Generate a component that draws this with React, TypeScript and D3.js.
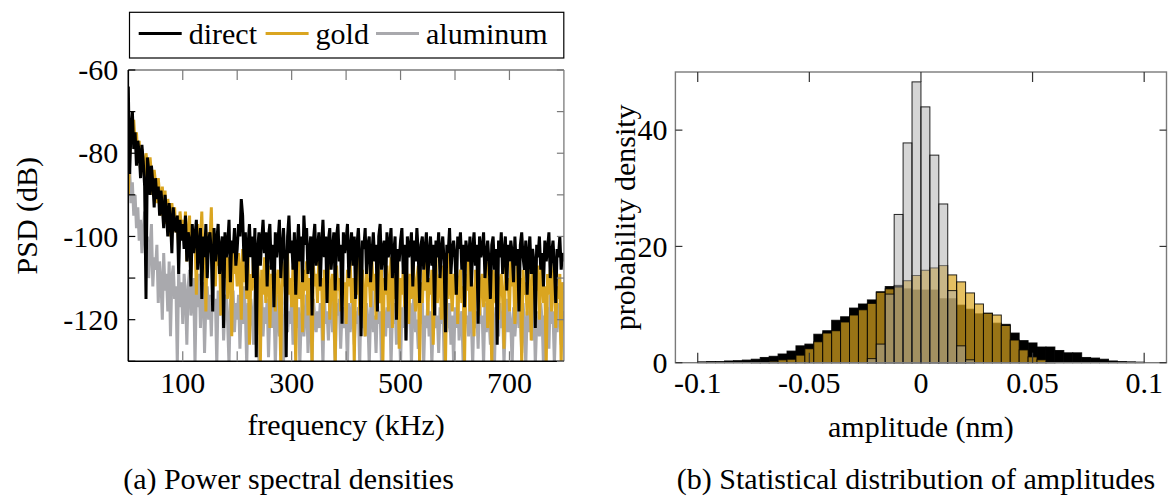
import React from "react";
import * as d3 from "d3";

// ---------- (a) Power spectral densities ----------
const FREQ_STEP = 2.5; // kHz
const PSD_DIRECT = [
  -64, -85, -74, -70, -79, -75, -83, -77, -80, -86, -78, -82, -88, -115, -81, -84, -90, -83, -87, -93,
  -86, -91, -88, -95, -89, -93, -98, -90, -94, -100, -92, -96, -104, -93, -97, -99, -95, -109, -96, -101,
  -97, -103, -95, -106, -99, -101, -112, -97, -104, -100, -96, -108, -102, -98, -115, -100, -105, -97, -110, -101,
  -99, -104, -118, -98, -106, -101, -97, -109, -103, -100, -122, -99, -105, -102, -96, -111, -101, -104, -98, -107,
  -103, -97, -100, -91, -95, -106, -99, -113, -102, -97, -105, -100, -110, -98, -129, -103, -99, -107, -101, -96,
  -104, -99, -112, -100, -97, -108, -102, -117, -99, -105, -101, -96, -110, -103, -98, -106, -129, -100, -95, -104,
  -101, -108, -99, -114, -103, -97, -106, -100, -111, -95, -102, -98, -109, -104, -100, -119, -101, -97, -107, -103,
  -99, -112, -102, -96, -105, -100, -116, -101, -98, -108, -103, -99, -113, -100, -97, -106, -102, -121, -99, -104,
  -101, -97, -110, -103, -99, -107, -100, -115, -102, -98, -105, -124, -101, -103, -98, -109, -102, -100, -111, -104,
  -99, -106, -102, -118, -100, -97, -108, -103, -101, -113, -99, -105, -102, -98, -110, -104, -100, -120, -103, -106,
  -101, -98, -109, -102, -125, -100, -105, -103, -99, -112, -101, -106, -98, -104, -116, -102, -100, -108, -103, -99,
  -111, -104, -100, -107, -102, -119, -101, -105, -99, -110, -103, -100, -106, -123, -102, -104, -98, -109, -103, -101,
  -105, -114, -100, -103, -99, -108, -102, -117, -101, -104, -106, -100, -112, -103, -99, -107, -102, -121, -100, -105,
  -103, -99, -110, -104, -101, -106, -115, -102, -100, -108, -103, -126, -101, -105, -99, -109, -104, -100, -113, -102,
  -106, -101, -104, -111, -100, -107, -103, -118, -102, -99, -105, -108, -101, -114, -104, -100, -109, -103, -106, -122,
  -102, -105, -100, -108, -104, -112, -101, -106, -103, -99, -110, -104, -101, -107, -116, -103, -105, -100, -108, -104,
  -106,
];
const PSD_GOLD = [
  -90, -80, -76, -73, -72, -78, -75, -81, -77, -84, -79, -82, -86, -80, -83, -88, -81, -85, -90, -84,
  -87, -92, -86, -90, -95, -88, -93, -89, -97, -91, -94, -100, -92, -96, -93, -99, -95, -103, -94, -98,
  -96, -101, -94, -106, -99, -95, -110, -98, -103, -100, -114, -97, -105, -101, -94, -108, -102, -118, -99, -104,
  -101, -93, -109, -104, -112, -100, -107, -103, -119, -101, -106, -110, -102, -115, -105, -108, -124, -103, -109, -106,
  -112, -104, -108, -120, -103, -111, -107, -115, -105, -126, -109, -113, -104, -110, -117, -106, -112, -131, -108, -114,
  -105, -116, -110, -107, -122, -109, -113, -103, -118, -111, -108, -115, -131, -106, -112, -109, -120, -104, -114, -110,
  -117, -107, -112, -131, -109, -105, -115, -111, -123, -108, -113, -106, -119, -110, -114, -131, -107, -112, -109, -116,
  -104, -113, -110, -125, -108, -115, -111, -106, -120, -112, -109, -117, -131, -107, -113, -110, -118, -105, -114, -111,
  -121, -108, -112, -106, -116, -110, -131, -109, -114, -104, -119, -111, -108, -115, -124, -107, -112, -110, -117, -106,
  -113, -109, -120, -103, -111, -116, -108, -131, -110, -114, -107, -118, -112, -105, -122, -109, -115, -111, -106, -127,
  -110, -114, -108, -117, -104, -112, -121, -109, -115, -102, -113, -118, -110, -107, -131, -111, -116, -108, -113, -106,
  -119, -110, -114, -108, -126, -112, -105, -116, -111, -109, -120, -107, -113, -131, -110, -115, -104, -112, -118, -109,
  -114, -106, -121, -111, -108, -116, -112, -131, -109, -113, -105, -118, -110, -115, -124, -108, -112, -107, -119, -111,
  -109, -117, -113, -106, -122, -110, -114, -131, -108, -112, -116, -105, -120, -111, -109, -115, -127, -107, -113, -110,
  -118, -106, -112, -109, -121, -113, -104, -116, -110, -131, -108, -114, -111, -119, -107, -112, -125, -109, -115, -110,
  -113, -107, -120, -111, -105, -116, -112, -131, -109, -114, -108, -118, -110, -106, -122, -112, -115, -109, -131, -111,
  -113,
];
const PSD_ALUMINUM = [
  -88, -84, -92, -87, -95, -90, -98, -93, -101, -96, -104, -99, -94, -107, -100, -110, -103, -97, -112, -105,
  -108, -102, -116, -106, -111, -120, -104, -113, -109, -118, -106, -124, -110, -107, -115, -112, -131, -108, -117, -111,
  -121, -109, -114, -126, -112, -108, -119, -115, -110, -131, -113, -117, -109, -122, -114, -111, -128, -116, -112, -120,
  -114, -124, -111, -118, -115, -131, -113, -119, -116, -112, -125, -117, -114, -121, -131, -115, -118, -113, -123, -116,
  -120, -114, -127, -117, -121, -112, -118, -131, -116, -122, -115, -119, -126, -113, -120, -117, -131, -118, -114, -124,
  -117, -121, -115, -129, -118, -113, -122, -116, -131, -119, -114, -124, -117, -120, -131, -116, -112, -123, -118, -121,
  -115, -126, -119, -113, -122, -117, -131, -120, -116, -124, -118, -114, -128, -121, -117, -131, -115, -120, -123, -118,
  -122, -116, -119, -131, -114, -121, -118, -125, -117, -113, -123, -120, -131, -116, -119, -115, -127, -118, -122, -117,
  -120, -131, -116, -123, -119, -114, -126, -118, -121, -117, -131, -115, -122, -119, -124, -116, -120, -131, -118, -113,
  -123, -119, -128, -116, -121, -118, -131, -115, -120, -124, -117, -122, -114, -131, -119, -121, -116, -126, -118, -120,
  -131, -117, -122, -115, -125, -119, -121, -116, -131, -118, -113, -123, -120, -127, -117, -121, -115, -131, -119, -122,
  -116, -124, -118, -131, -120, -114, -122, -119, -128, -117, -121, -115, -131, -118, -123, -120, -116, -126, -119, -131,
  -117, -122, -114, -125, -120, -118, -131, -116, -121, -119, -124, -113, -120, -131, -117, -122, -118, -127, -115, -121,
  -119, -131, -116, -123, -118, -120, -126, -114, -121, -131, -117, -119, -124, -116, -122, -118, -131, -120, -115, -123,
  -118, -121, -131, -117, -124, -119, -114, -122, -120, -128, -116, -121, -131, -118, -123, -117, -120, -125, -115, -131,
  -121, -118, -124, -116, -120, -131, -119, -122, -117, -127, -114, -121, -118, -131, -120, -123, -116, -119, -126, -118,
  -120,
];
const PSD_X_TICKS = [100, 200, 300, 400, 500, 600, 700];
const PSD_X_LABELS = [100, 300, 500, 700];
const PSD_Y_TICKS = [-60, -70, -80, -90, -100, -110, -120, -130];
const PSD_Y_LABELS = [-60, -80, -100, -120];

// ---------- (b) Histogram of amplitudes ----------
const BIN_START = -0.1;
const BIN_WIDTH = 0.004;
const HIST_DIRECT = [
  0.15, 0.2, 0.2, 0.3, 0.35, 0.45, 0.6, 0.9, 1.1, 1.5,
  2.0, 2.9, 3.2, 4.9, 5.5, 7.3, 7.9, 9.4, 10.1, 10.8,
  12.2, 13.1, 13.3, 12.7, 12.5, 12.5, 12.5, 11.0, 11.0, 9.9,
  9.2, 8.4, 8.5, 6.8, 6.6, 5.1, 3.8, 3.4, 2.7, 2.7,
  2.1, 1.7, 1.7, 0.9, 0.8, 0.6, 0.3, 0.2, 0.15, 0.1,
];
const HIST_GOLD = [
  0, 0, 0, 0, 0, 0, 0.05, 0.1, 0.25, 0.5,
  0.6, 1.3, 2.4, 3.6, 5.1, 5.5, 7.0, 8.2, 9.1, 10.2,
  12.1, 12.7, 13.0, 14.1, 15.0, 15.9, 16.3, 16.7, 15.1, 13.9,
  12.0, 10.1, 8.5, 8.2, 6.4, 3.9, 2.2, 1.0, 0.5, 0.1,
  0, 0, 0, 0, 0, 0, 0, 0, 0, 0,
];
const HIST_ALUMINUM = [
  0, 0, 0, 0, 0, 0, 0, 0, 0, 0,
  0, 0, 0, 0, 0, 0, 0, 0, 0, 0.7,
  3.2, 11.8, 25.5, 37.8, 48.3, 44.0, 35.7, 27.3, 12.4, 2.9,
  0.5, 0, 0, 0, 0, 0, 0, 0, 0, 0,
  0, 0, 0, 0, 0, 0, 0, 0, 0, 0,
];
const AMP_TICKS = [-0.1, -0.05, 0, 0.05, 0.1];
const AMP_LABELS = ["-0.1", "-0.05", "0", "0.05", "0.1"];
const DENS_TICKS = [0, 20, 40];

const LEGEND = [
  { name: "direct", color: "#000000" },
  { name: "gold", color: "#DAA520" },
  { name: "aluminum", color: "#A9A9AD" },
];

const FONT = "'Liberation Serif', 'Times New Roman', serif";
const FS = 30;
const FRAME_GRAY = "#7a7a7a";

export default function App() {
  // left panel
  const L = { left: 128.3, right: 563.9, top: 70, bottom: 361.3 };
  const xL = d3.scaleLinear().domain([0, 800]).range([L.left, L.right]);
  const yL = d3.scaleLinear().domain([-130, -60]).range([L.bottom, L.top]);
  const line = d3
    .line<number>()
    .x((_, i) => xL(i * FREQ_STEP))
    .y((d) => yL(d));
  const series = [
    { data: PSD_ALUMINUM, color: LEGEND[2].color },
    { data: PSD_GOLD, color: LEGEND[1].color },
    { data: PSD_DIRECT, color: LEGEND[0].color },
  ];

  // right panel
  const R = { left: 675.4, right: 1166.5, top: 72, bottom: 362.7 };
  const xR = d3.scaleLinear().domain([-0.11, 0.11]).range([R.left, R.right]);
  const yR = d3.scaleLinear().domain([0, 50]).range([R.bottom, R.top]);
  const hists = [
    { data: HIST_DIRECT, fill: "#000000", op: 1 },
    { data: HIST_GOLD, fill: "#DAA520", op: 0.7 },
    { data: HIST_ALUMINUM, fill: "#ABABAB", op: 0.5 },
  ];

  return (
    <svg
      width={1168}
      height={500}
      style={{ position: "absolute", left: 0, top: 0, display: "block", background: "#fff" }}
      fontFamily={FONT}
      fontSize={FS}
    >
      <defs>
        <clipPath id="clipL">
          <rect x={L.left} y={L.top} width={L.right - L.left} height={L.bottom - L.top} />
        </clipPath>
      </defs>

      {/* ---------- left panel ---------- */}
      <g clipPath="url(#clipL)">
        {series.map((s, i) => (
          <path key={i} d={line(s.data) || ""} fill="none" stroke={s.color} strokeWidth={3} strokeLinejoin="miter" />
        ))}
      </g>
      <line x1={L.left} x2={L.right} y1={L.top} y2={L.top} stroke={FRAME_GRAY} strokeWidth={1.3} />
      <line x1={L.right} x2={L.right} y1={L.top} y2={L.bottom} stroke={FRAME_GRAY} strokeWidth={1.3} />
      <line x1={L.left} x2={L.right} y1={L.bottom} y2={L.bottom} stroke="#000" strokeWidth={1.6} />
      <line x1={L.left} x2={L.left} y1={L.top} y2={L.bottom} stroke="#000" strokeWidth={1.6} />
      {PSD_X_TICKS.map((t) => (
        <g key={"xt" + t}>
          <line x1={xL(t)} x2={xL(t)} y1={L.top} y2={L.top + 10} stroke={FRAME_GRAY} strokeWidth={1.2} />
          <line x1={xL(t)} x2={xL(t)} y1={L.bottom} y2={L.bottom - 10} stroke={FRAME_GRAY} strokeWidth={1.2} />
        </g>
      ))}
      {PSD_Y_TICKS.map((t) => (
        <g key={"yt" + t}>
          <line x1={L.left} x2={L.left + 7} y1={yL(t)} y2={yL(t)} stroke="#000" strokeWidth={1.2} />
          <line x1={L.right} x2={L.right - 7} y1={yL(t)} y2={yL(t)} stroke={FRAME_GRAY} strokeWidth={1.2} />
        </g>
      ))}
      {PSD_X_LABELS.map((t) => (
        <text key={"xl" + t} x={xL(t)} y={393} textAnchor="middle">
          {t}
        </text>
      ))}
      {PSD_Y_LABELS.map((t) => (
        <text key={"yl" + t} x={L.left - 10} y={yL(t)} dy="0.34em" textAnchor="end">
          {t}
        </text>
      ))}
      <text x={(L.left + L.right) / 2} y={435} textAnchor="middle">
        frequency (kHz)
      </text>
      <text transform={`translate(37, ${(L.top + L.bottom) / 2}) rotate(-90)`} textAnchor="middle">
        PSD (dB)
      </text>
      <text x={288.5} y={489} textAnchor="middle">
        (a) Power spectral densities
      </text>

      {/* legend */}
      <rect x={129.5} y={12.3} width={434.3} height={45.7} fill="#fff" stroke="#000" strokeWidth={1.2} />
      {LEGEND.map((it, i) => {
        const x0 = [138.7, 265.6, 376][i];
        return (
          <g key={it.name}>
            <line x1={x0} x2={x0 + 43} y1={33.5} y2={33.5} stroke={it.color} strokeWidth={3} />
            <text x={x0 + 50} y={43.5}>
              {it.name}
            </text>
          </g>
        );
      })}

      {/* ---------- right panel ---------- */}
      {hists.map((h, hi) => (
        <g key={"h" + hi}>
          {h.data.map((v, k) => {
            if (v <= 0) return null;
            const a = BIN_START + k * BIN_WIDTH;
            const x0 = xR(a);
            const x1 = xR(a + BIN_WIDTH);
            return (
              <rect
                key={k}
                x={x0}
                y={yR(v)}
                width={x1 - x0}
                height={yR(0) - yR(v)}
                fill={h.fill}
                fillOpacity={h.op}
                stroke="#000"
                strokeOpacity={0.85}
                strokeWidth={1}
              />
            );
          })}
        </g>
      ))}
      <rect
        x={R.left}
        y={R.top}
        width={R.right - R.left}
        height={R.bottom - R.top}
        fill="none"
        stroke={FRAME_GRAY}
        strokeWidth={1.4}
      />
      {AMP_TICKS.map((t, i) => (
        <g key={"at" + i}>
          <line x1={xR(t)} x2={xR(t)} y1={R.top} y2={R.top + 10} stroke="#333" strokeWidth={1.2} />
          <line x1={xR(t)} x2={xR(t)} y1={R.bottom} y2={R.bottom - 10} stroke="#333" strokeWidth={1.2} />
          <text x={xR(t)} y={393} textAnchor="middle">
            {AMP_LABELS[i]}
          </text>
        </g>
      ))}
      {DENS_TICKS.map((t) => (
        <g key={"dt" + t}>
          <line x1={R.left} x2={R.left + 7} y1={yR(t)} y2={yR(t)} stroke="#333" strokeWidth={1.2} />
          <line x1={R.right} x2={R.right - 7} y1={yR(t)} y2={yR(t)} stroke="#333" strokeWidth={1.2} />
          <text x={R.left - 8} y={yR(t)} dy="0.34em" textAnchor="end">
            {t}
          </text>
        </g>
      ))}
      <text x={(R.left + R.right) / 2} y={437} textAnchor="middle">
        amplitude (nm)
      </text>
      <text transform={`translate(635, ${(R.top + R.bottom) / 2}) rotate(-90)`} textAnchor="middle">
        probability density
      </text>
      <text x={916} y={489} textAnchor="middle">
        (b) Statistical distribution of amplitudes
      </text>
    </svg>
  );
}
